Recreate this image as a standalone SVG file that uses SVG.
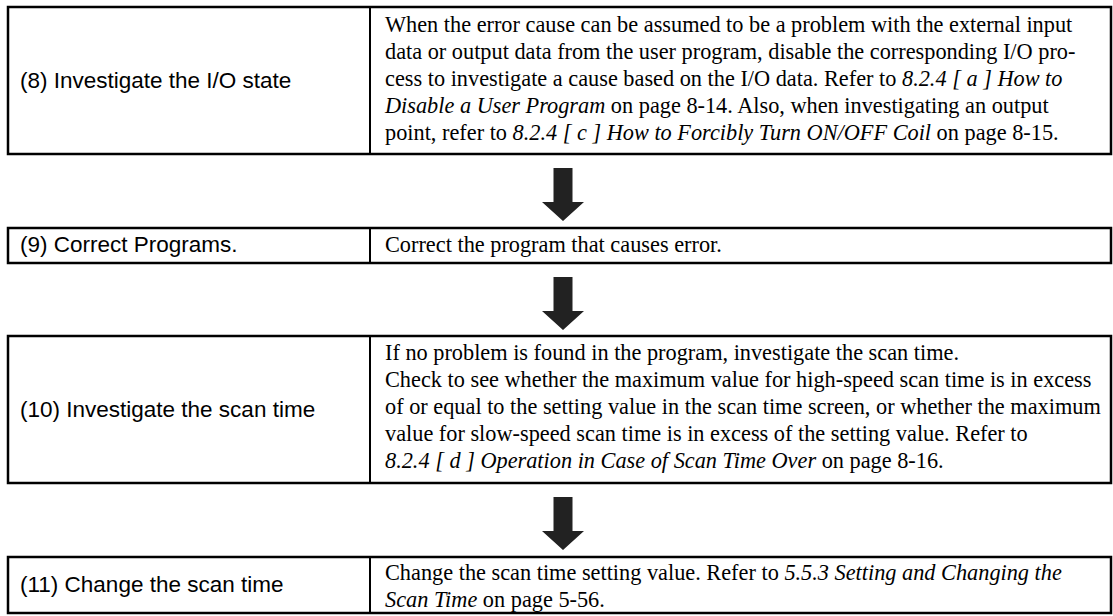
<svg xmlns="http://www.w3.org/2000/svg" width="1113" height="616" viewBox="0 0 1113 616">
<style>
.box{fill:#fff;stroke:#000;stroke-width:2.5}
.div{stroke:#000;stroke-width:2}
.lab{font-family:"Liberation Sans",Arial,sans-serif;font-size:22.5px;fill:#000}
.txt{font-family:"Liberation Serif","Times New Roman",serif;font-size:22.3px;fill:#000}
.it{font-style:italic}
.arr{fill:#222}
</style>
<defs>
<path id="arrow" d="M-9.5 0 H9.5 V34 H21 L0 53 L-21 34 H-9.5 Z"/>
</defs>
<rect width="1113" height="616" fill="#fff"/>
<g id="step8">
<rect class="box" x="8" y="7" width="1103" height="147"/>
<line class="div" x1="370" y1="7" x2="370" y2="154"/>
<text class="lab" x="20" y="88">(8) Investigate the I/O state</text>
<text class="txt" x="385" y="32">When the error cause can be assumed to be a problem with the external input</text>
<text class="txt" x="385" y="59">data or output data from the user program, disable the corresponding I/O pro-</text>
<text class="txt" x="385" y="86">cess to investigate a cause based on the I/O data. Refer to <tspan class="it">8.2.4 [ a ] How to</tspan></text>
<text class="txt" x="385" y="113"><tspan class="it">Disable a User Program</tspan> on page 8-14. Also, when investigating an output</text>
<text class="txt" x="385" y="140">point, refer to <tspan class="it">8.2.4 [ c ] How to Forcibly Turn ON/OFF Coil</tspan> on page 8-15.</text>
</g>
<g id="step9">
<rect class="box" x="8" y="228" width="1103" height="35"/>
<line class="div" x1="370" y1="228" x2="370" y2="263"/>
<text class="lab" x="20" y="252">(9) Correct Programs.</text>
<text class="txt" x="385" y="252">Correct the program that causes error.</text>
</g>
<g id="step10">
<rect class="box" x="8" y="336" width="1103" height="147"/>
<line class="div" x1="370" y1="336" x2="370" y2="483" stroke-width="2.5"/>
<text class="lab" x="20" y="417">(10) Investigate the scan time</text>
<text class="txt" x="385" y="360">If no problem is found in the program, investigate the scan time.</text>
<text class="txt" x="385" y="387">Check to see whether the maximum value for high-speed scan time is in excess</text>
<text class="txt" x="385" y="414">of or equal to the setting value in the scan time screen, or whether the maximum</text>
<text class="txt" x="385" y="441">value for slow-speed scan time is in excess of the setting value. Refer to</text>
<text class="txt" x="385" y="468"><tspan class="it">8.2.4 [ d ] Operation in Case of Scan Time Over</tspan> on page 8-16.</text>
</g>
<g id="step11">
<rect class="box" x="8" y="557" width="1103" height="56"/>
<line class="div" x1="370" y1="557" x2="370" y2="613"/>
<text class="lab" x="20" y="592">(11) Change the scan time</text>
<text class="txt" x="385" y="580">Change the scan time setting value. Refer to <tspan class="it">5.5.3 Setting and Changing the</tspan></text>
<text class="txt" x="385" y="607"><tspan class="it">Scan Time</tspan> on page 5-56.</text>
</g>
<g id="connectors">
<use href="#arrow" class="arr" x="563" y="168"/>
<use href="#arrow" class="arr" x="563" y="277"/>
<use href="#arrow" class="arr" x="563" y="497"/>
</g>
</svg>
